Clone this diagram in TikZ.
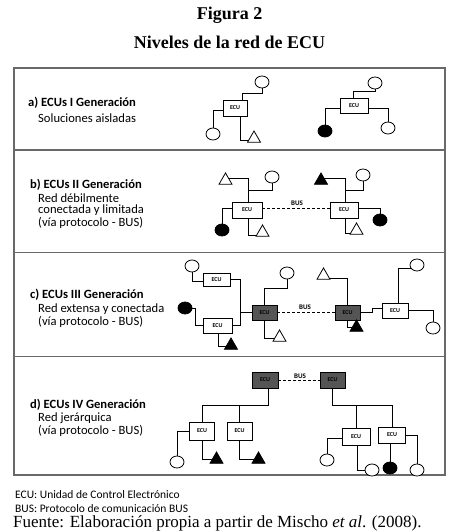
\documentclass[tikz,border=0pt]{standalone}
\usepackage{fontspec}
\setmainfont{Liberation Serif}
\newfontfamily\carlito{Carlito}
\usetikzlibrary{shapes.geometric,backgrounds}
\definecolor{ecudark}{RGB}{85,85,85}
\definecolor{framegray}{RGB}{105,105,105}
\tikzset{
 ecubox/.style={draw, line width=0.8pt, fill=white, minimum width=27pt, minimum height=16pt, inner sep=0pt, font=\carlito\bfseries\fontsize{6}{6}\selectfont},
 darkecu/.style={ecubox, fill=ecudark},
 opencirc/.style={ellipse, draw, line width=0.8pt, fill=white, minimum width=14pt, minimum height=12pt, inner sep=0pt},
 fillcirc/.style={opencirc, fill=black},
 opentri/.style={regular polygon, regular polygon sides=3, draw, line width=0.8pt, fill=white, minimum size=15pt, inner sep=0pt},
 filltri/.style={opentri, fill=black},
 conn/.style={line width=0.8pt},
 busline/.style={conn, dash pattern=on 3pt off 2pt},
 buslbl/.style={inner sep=0pt, font=\carlito\bfseries\fontsize{7}{7}\selectfont},
 panel/.style={draw=framegray, line width=1.2pt},
 head/.style={anchor=west, inner sep=0pt, font=\carlito\bfseries\fontsize{12.6}{14}\selectfont},
 body/.style={anchor=west, inner sep=0pt, font=\carlito\fontsize{12.6}{14}\selectfont},
 note/.style={anchor=west, inner sep=0pt, font=\carlito\fontsize{11.5}{12}\selectfont},
}
\begin{document}
\begin{tikzpicture}[x=1pt,y=-1pt]
\begin{pgfonlayer}{background}\fill[white] (0,0) rectangle (459,532);\end{pgfonlayer}
\useasboundingbox (0,0) rectangle (459,532);

% titles
\node[font=\bfseries\fontsize{18}{20}\selectfont] (title1) at (229.5,15) {Figura 2};
\node[font=\bfseries\fontsize{18}{20}\selectfont] (title2) at (229.5,42) {Niveles de la red de ECU};

% frame
\draw[panel] (14,68) rectangle (445,475);
\draw[panel] (14,150) -- (445,150);
\draw[panel] (14,252.5) -- (445,252.5);
\draw[panel] (14,356.5) -- (445,356.5);

% panel texts
\node[head] (ta1) at (28,103) {a) ECUs I Generación};
\node[body] (ta2) at (38,118) {Soluciones aisladas};
\node[head] (tb1) at (30,185) {b) ECUs II Generación};
\node[body] (tb2) at (38,198) {Red débilmente};
\node[body] (tb3) at (38,210.5) {conectada y limitada};
\node[body] (tb4) at (38,223) {(vía protocolo - BUS)};
\node[head] (tc1) at (30,295) {c) ECUs III Generación};
\node[body] (tc2) at (38,309) {Red extensa y conectada};
\node[body] (tc3) at (38,322) {(vía protocolo - BUS)};
\node[head] (td1) at (30,405) {d) ECUs IV Generación};
\node[body] (td2) at (38,418) {Red jerárquica};
\node[body] (td3) at (38,431) {(vía protocolo - BUS)};

% ---------- panel a ----------
\node[ecubox, minimum width=24pt] (a_e1) at (235,108) {ECU};
\node[opencirc] (a_c1) at (262,82) {};
\node[opencirc] (a_c2) at (213,134) {};
\node[opentri] (a_t1) at (254,138.5) {};
\node[ecubox, minimum width=28pt, minimum height=15pt] (a_e2) at (354,106) {ECU};
\node[opencirc] (a_c3) at (375,83) {};
\node[fillcirc] (a_f1) at (325,131) {};
\node[opencirc] (a_c4) at (388,128) {};

% ---------- panel b ----------
\node[ecubox, minimum width=30pt] (b_e1) at (247,210) {ECU};
\node[opentri] (b_t1) at (225.5,180.5) {};
\node[opencirc] (b_c1) at (272,177) {};
\node[fillcirc] (b_f1) at (222,230) {};
\node[opentri] (b_t2) at (262.5,232.5) {};
\node[ecubox, minimum width=28pt] (b_e2) at (344,210) {ECU};
\node[filltri] (b_t3) at (321,180.5) {};
\node[opencirc] (b_c2) at (363,175) {};
\node[fillcirc] (b_f2) at (380,220) {};
\node[opentri] (b_t4) at (356.5,230.5) {};
\node[buslbl] (b_bus) at (297,203) {BUS};

% ---------- panel c ----------
\node[ecubox, minimum height=13pt] (c_eA) at (216.5,279.5) {ECU};
\node[opencirc] (c_cA) at (192,266) {};
\node[ecubox, minimum width=29pt, minimum height=15pt] (c_eB) at (217.5,325.5) {ECU};
\node[fillcirc] (c_fB) at (185,308) {};
\node[filltri] (c_tB) at (231,345.5) {};
\node[darkecu, minimum width=25pt, minimum height=15pt] (c_eC) at (264.5,312.5) {ECU};
\node[opencirc] (c_cC) at (287,273) {};
\node[opentri] (c_tC) at (279.5,337.5) {};
\node[darkecu, minimum width=25pt, minimum height=15pt] (c_eD) at (347.5,312.5) {ECU};
\node[opentri] (c_tD) at (323.5,275.5) {};
\node[filltri] (c_fD) at (356.5,327.5) {};
\node[ecubox, minimum width=26pt, minimum height=15pt] (c_eE) at (395,310.5) {ECU};
\node[opencirc] (c_cE) at (417,265) {};
\node[opencirc] (c_cE2) at (433,328) {};
\node[buslbl] (c_bus) at (305,307) {BUS};
\coordinate (c_j) at (240,312.5);

% ---------- panel d ----------
\node[darkecu, minimum width=26pt] (d_eF) at (265,380) {ECU};
\node[darkecu, minimum width=25pt] (d_eG) at (332.5,380) {ECU};
\node[buslbl] (d_bus) at (300,376) {BUS};
\node[ecubox, minimum width=25pt, minimum height=18pt] (d_eH) at (202,431) {ECU};
\node[ecubox, minimum width=25pt, minimum height=18pt] (d_eI) at (239.5,431) {ECU};
\node[opencirc] (d_cH) at (177,462) {};
\node[filltri] (d_tH) at (216.5,459.5) {};
\node[filltri] (d_tI) at (258.5,459.5) {};
\node[ecubox, minimum width=28pt, minimum height=17pt] (d_eJ) at (356,436.5) {ECU};
\node[ecubox, minimum width=27pt, minimum height=16pt] (d_eK) at (392,435) {ECU};
\node[opencirc] (d_cJ) at (327,460) {};
\node[opencirc] (d_cJ2) at (372,470) {};
\node[fillcirc] (d_fK) at (390,468) {};
\node[opencirc] (d_cK) at (417,470) {};
\coordinate (d_j1) at (239.5,405);
\coordinate (d_j2) at (356,405);

% notes
\node[note] (n1) at (15,495) {ECU: Unidad de Control Electrónico};
\node[note] (n2) at (15,509) {BUS: Protocolo de comunicación BUS};
\node[anchor=west, inner sep=0pt, font=\fontsize{17}{19}\selectfont] (src) at (13,523.5) {Fuente: Elaboración propia a partir de Mischo \textit{et al}. (2008).};

% ---------- connectors ----------
\begin{pgfonlayer}{background}
% a
\draw[conn] ([xshift=7pt]a_e1.center) |- (262,93) -- (a_c1);
\draw[conn] ([yshift=-2pt]a_e1.center) -| (a_c2);
\draw[conn] ([xshift=5pt]a_e1.center) |- ([yshift=-1.5pt]a_t1.center);
\draw[conn] ([xshift=-1pt]a_e2.center) |- (375,91) -- (a_c3);
\draw[conn] ([yshift=-2pt]a_e2.center) -| (a_f1);
\draw[conn] ([yshift=-2pt]a_e2.center) -| (a_c4);
% b
\draw[conn] ([xshift=1pt]b_e1.center) |- ([yshift=2.5pt]b_t1.center);
\draw[conn] ([xshift=1pt]b_e1.center) |- (272,190) -- (b_c1);
\draw[conn] ([yshift=2pt]b_e1.center) -| (b_f1);
\draw[conn] ([xshift=1pt]b_e1.center) |- ([yshift=-2.5pt]b_t2.center);
\draw[busline] ([yshift=2pt]b_e1.center) -- ([yshift=2pt]b_e2.center);
\draw[conn] ([xshift=1pt]b_e2.center) |- ([yshift=2.5pt]b_t3.center);
\draw[conn] ([xshift=1pt]b_e2.center) |- (363,190) -- (b_c2);
\draw[conn] ([yshift=2pt]b_e2.center) -| (b_f2);
\draw[conn] ([xshift=1pt]b_e2.center) |- ([yshift=-2.5pt]b_t4.center);
% c
\draw[conn] (c_cA) |- ([yshift=-1.5pt]c_eA.center);
\draw[conn] (c_eA) -| (240,325.5) -- (c_eB);
\draw[conn] (c_j) -- (c_eC);
\draw[conn] (c_fB) -| (195,325.5) -- (c_eB);
\draw[conn] ([xshift=0.5pt]c_eB.center) |- ([yshift=-1pt]c_tB.center);
\draw[conn] (c_eC) |- (287,288) -- (c_cC);
\draw[conn] (c_eC) |- ([yshift=-0.5pt]c_tC.center);
\draw[busline] (c_eC) -- (c_eD);
\draw[conn] (c_eD) |- ([yshift=-3pt]c_tD.center);
\draw[conn] (c_eD) |- (c_fD);
\draw[conn] (c_eD) -| (372,308) -- ([yshift=2.5pt]c_eE.center);
\draw[conn] ([xshift=3pt]c_eE.center) |- ([yshift=-3pt]c_cE.center);
\draw[conn] (c_eE) -| (c_cE2);
% d
\draw[busline] (d_eF) -- (d_eG);
\draw[conn] ([xshift=3pt]d_eF.center) |- (202,405) -- (d_eH);
\draw[conn] (d_j1) -- (d_eI);
\draw[conn] (d_eH) -| (d_cH);
\draw[conn] ([xshift=0.5pt]d_eH.center) |- (d_tH);
\draw[conn] (d_eI) |- (d_tI);
\draw[conn] (d_eG) |- (392,405) -- (d_eK);
\draw[conn] (d_j2) -- (d_eJ);
\draw[conn] ([yshift=-1.5pt]d_eJ.center) -| (d_cJ);
\draw[conn] ([xshift=1pt]d_eJ.center) |- (d_cJ2);
\draw[conn] ([xshift=-2pt]d_eK.center) -- (d_fK);
\draw[conn] (d_eK) -| (d_cK);
\end{pgfonlayer}
\end{tikzpicture}
\end{document}
